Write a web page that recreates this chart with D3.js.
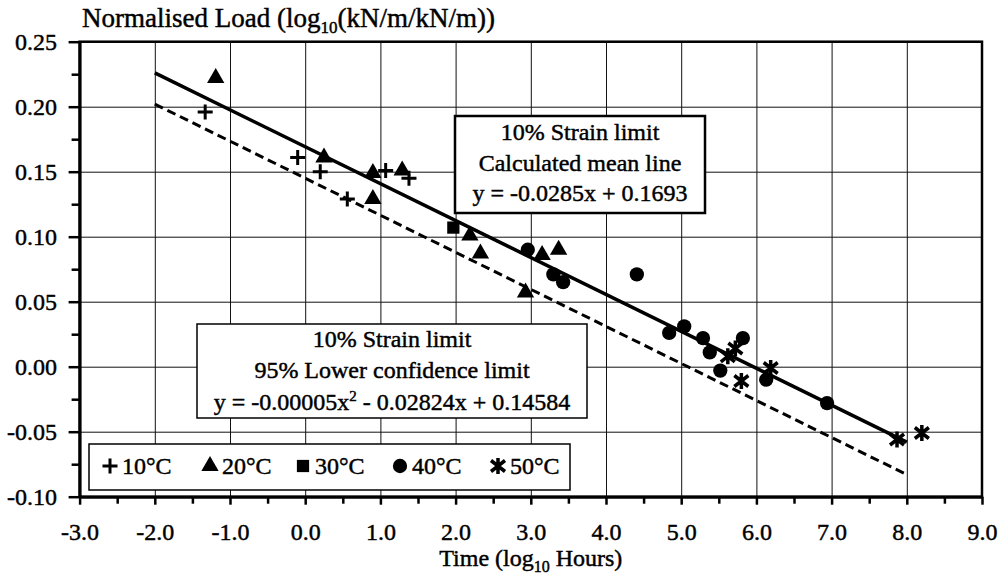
<!DOCTYPE html>
<html>
<head>
<meta charset="utf-8">
<script src="https://cdn.jsdelivr.net/npm/d3@7"></script>
<style>
    body { margin: 0; background: #fff; }
    svg { font-family: "Liberation Serif", "Times New Roman", serif; }
    svg text { fill: #000; stroke: #000; stroke-width: 0.45px; }
    .grid line { stroke: #111; stroke-width: 1; }
    .grid path { display: none; }
    .axis path, .axis line { stroke: #000; }
</style>
</head>
<body>
<div id="vis-container"></div>
<script>
"use strict";

// Axis ticks
const xTicks = [-3, -2, -1, 0, 1, 2, 3, 4, 5, 6, 7, 8, 9];
const xMinorTicks = [-2.5, -1.5, -0.5, 0.5, 1.5, 2.5, 3.5, 4.5, 5.5, 6.5, 7.5, 8.5];
const yTicks = [-0.10, -0.05, 0.00, 0.05, 0.10, 0.15, 0.20, 0.25];
const yMinorTicks = [-0.075, -0.025, 0.025, 0.075, 0.125, 0.175, 0.225];

// Measured points: [log10 hours, normalised load]
const temp10 = [[-1.33, 0.196], [-0.10, 0.161], [0.20, 0.150], [0.56, 0.129], [1.07, 0.151], [1.38, 0.145]];
const temp20 = [[-1.19, 0.222], [0.25, 0.161], [0.90, 0.149], [1.29, 0.151], [0.90, 0.129],
                [2.19, 0.101], [2.33, 0.087], [3.15, 0.086], [3.37, 0.090], [2.93, 0.057]];
const temp30 = [[1.97, 0.107]];
const temp40 = [[2.96, 0.090], [3.30, 0.071], [3.43, 0.065], [4.41, 0.071], [4.84, 0.026], [5.04, 0.031],
                [5.29, 0.022], [5.38, 0.011], [5.82, 0.022], [5.52, -0.003], [6.13, -0.010], [6.94, -0.028]];
const temp50 = [[5.72, 0.014], [5.62, 0.008], [5.80, -0.011], [6.19, -0.001], [7.87, -0.056], [8.20, -0.051]];

// Fitted lines, end points
const meanLine = [[-2.0, 0.226], [8.0, -0.058]];
const lowerLine = [[-2.0, 0.202], [8.0, -0.083]];

const legendLabels = ["10°C", "20°C", "30°C", "40°C", "50°C"];
const meanText = ["10% Strain limit", "Calculated mean line", "y = -0.0285x + 0.1693"];
const lowerText = ["10% Strain limit", "95% Lower confidence limit"];

function mainIndex()
{
    const width = 1000, height = 576;
    const margin = { top: 41.7, right: 18, bottom: 79.3, left: 79.6 };
    const dims = {
        width: width - margin.left - margin.right,
        height: height - margin.top - margin.bottom
    };

    const x = d3.scaleLinear().domain([-3, 9]).range([0, dims.width]);
    const y = d3.scaleLinear().domain([-0.10, 0.25]).range([dims.height, 0]);

    const svg = d3.select("#vis-container")
        .append("svg")
        .attr("width", width)
        .attr("height", height);

    const g = svg.append("g")
        .attr("transform", `translate(${margin.left},${margin.top})`);

    // Grid
    g.append("g")
        .attr("class", "grid")
        .call(d3.axisBottom(x).tickValues(xTicks).tickSize(dims.height).tickFormat(""));
    g.append("g")
        .attr("class", "grid")
        .call(d3.axisLeft(y).tickValues(yTicks).tickSize(-dims.width).tickFormat(""));

    // Plot frame
    g.append("rect")
        .attr("width", dims.width)
        .attr("height", dims.height)
        .attr("fill", "none")
        .attr("stroke", "#000")
        .attr("stroke-width", 2.5);

    // X axis
    const xAxis = g.append("g")
        .attr("class", "axis")
        .attr("transform", `translate(0,${dims.height})`)
        .call(d3.axisBottom(x).tickValues(xTicks).tickSize(8).tickSizeOuter(0).tickFormat(d => d.toFixed(1)));
    xAxis.select(".domain").attr("stroke-width", 3);
    xAxis.selectAll("line").attr("stroke-width", 2.5);
    xAxis.selectAll("text")
        .attr("y", 43)
        .attr("dy", 0)
        .style("font-size", "24px")
        .style("font-family", "Liberation Serif");

    g.append("g")
        .attr("class", "axis")
        .attr("transform", `translate(0,${dims.height})`)
        .call(d3.axisBottom(x).tickValues(xMinorTicks).tickSize(7).tickFormat(""))
        .call(a => a.select(".domain").remove())
        .selectAll("line").attr("stroke-width", 2.5);

    // Y axis
    const yAxis = g.append("g")
        .attr("class", "axis")
        .call(d3.axisLeft(y).tickValues(yTicks).tickSize(11).tickSizeOuter(0).tickFormat(d => d.toFixed(2)));
    yAxis.select(".domain").attr("stroke-width", 3);
    yAxis.selectAll("line").attr("stroke-width", 2.5);
    yAxis.selectAll("text")
        .attr("x", -22.6)
        .attr("dy", "0.34em")
        .style("font-size", "24px")
        .style("font-family", "Liberation Serif");

    g.append("g")
        .attr("class", "axis")
        .call(d3.axisLeft(y).tickValues(yMinorTicks).tickSize(8).tickFormat(""))
        .call(a => a.select(".domain").remove())
        .selectAll("line").attr("stroke-width", 2.5);

    // Title and axis label
    const title = svg.append("text")
        .attr("x", 82)
        .attr("y", 27)
        .style("font-size", "27px");
    title.append("tspan").text("Normalised Load (log");
    title.append("tspan").attr("dy", 6).style("font-size", "17px").text("10");
    title.append("tspan").attr("dy", -6).text("(kN/m/kN/m))");

    const xLabel = svg.append("text")
        .attr("x", margin.left + dims.width / 2)
        .attr("y", 566)
        .attr("text-anchor", "middle")
        .style("font-size", "24px");
    xLabel.append("tspan").text("Time (log");
    xLabel.append("tspan").attr("dy", 6).style("font-size", "16px").text("10");
    xLabel.append("tspan").attr("dy", -6).text(" Hours)");

    // Fitted lines
    const line = d3.line().x(d => x(d[0])).y(d => y(d[1]));
    g.append("path")
        .datum(lowerLine)
        .attr("d", line)
        .attr("fill", "none")
        .attr("stroke", "#000")
        .attr("stroke-width", 3)
        .attr("stroke-dasharray", "9,5");
    g.append("path")
        .datum(meanLine)
        .attr("d", line)
        .attr("fill", "none")
        .attr("stroke", "#000")
        .attr("stroke-width", 3.5);

    // Marker shapes
    const plusPath = "M-7.5,0H7.5M0,-7.5V7.5";
    const starPath = "M-7,-5.5L7,5.5M7,-5.5L-7,5.5M0,-8V8";
    const shapes = [
        { d: plusPath, fill: "none", stroke: 3 },
        { d: d3.symbol(d3.symbolTriangle, 130)(), fill: "#000", stroke: 0 },
        { d: d3.symbol(d3.symbolSquare, 150)(), fill: "#000", stroke: 0 },
        { d: d3.symbol(d3.symbolCircle, 160)(), fill: "#000", stroke: 0 },
        { d: starPath, fill: "none", stroke: 3.5 }
    ];
    const groups = [temp10, temp20, temp30, temp40, temp50];

    groups.forEach((pts, i) => {
        g.selectAll(null)
            .data(pts)
            .enter()
            .append("path")
            .attr("transform", d => `translate(${x(d[0])},${y(d[1])})`)
            .attr("d", shapes[i].d)
            .attr("fill", shapes[i].fill)
            .attr("stroke", "#000")
            .attr("stroke-width", shapes[i].stroke);
    });

    // Mean line box
    svg.append("rect")
        .attr("x", 455).attr("y", 116)
        .attr("width", 250).attr("height", 97)
        .attr("fill", "#fff")
        .attr("stroke", "#000")
        .attr("stroke-width", 2.5);
    svg.selectAll(null)
        .data(meanText)
        .enter()
        .append("text")
        .attr("x", 580)
        .attr("y", (d, i) => 140 + i * 30.5)
        .attr("text-anchor", "middle")
        .style("font-size", "24px")
        .text(d => d);

    // Lower confidence box
    svg.append("rect")
        .attr("x", 197).attr("y", 324)
        .attr("width", 390).attr("height", 94)
        .attr("fill", "#fff")
        .attr("stroke", "#000")
        .attr("stroke-width", 1.5);
    svg.selectAll(null)
        .data(lowerText)
        .enter()
        .append("text")
        .attr("x", 392)
        .attr("y", (d, i) => 347 + i * 31)
        .attr("text-anchor", "middle")
        .style("font-size", "24px")
        .text(d => d);
    const eq = svg.append("text")
        .attr("x", 392)
        .attr("y", 410)
        .attr("text-anchor", "middle")
        .style("font-size", "24px");
    eq.append("tspan").text("y = -0.00005x");
    eq.append("tspan").attr("dy", -9).style("font-size", "15px").text("2");
    eq.append("tspan").attr("dy", 9).text(" - 0.02824x + 0.14584");

    // Legend
    const legendSymbolX = [110, 210, 303, 400, 498];
    svg.append("rect")
        .attr("x", 89).attr("y", 444)
        .attr("width", 481).attr("height", 46)
        .attr("fill", "#fff")
        .attr("stroke", "#000")
        .attr("stroke-width", 1.5);
    const legend = svg.selectAll(".legend-label")
        .data(legendLabels)
        .enter()
        .append("g")
        .attr("class", "legend-label")
        .attr("transform", (d, i) => `translate(${legendSymbolX[i]},466)`);
    legend.append("path")
        .attr("d", (d, i) => shapes[i].d)
        .attr("fill", (d, i) => shapes[i].fill)
        .attr("stroke", "#000")
        .attr("stroke-width", (d, i) => shapes[i].stroke);
    legend.append("text")
        .attr("x", 12)
        .attr("y", 8)
        .style("font-size", "24px")
        .text(d => d);
}

document.addEventListener("DOMContentLoaded", mainIndex);
</script>
</body>
</html>
